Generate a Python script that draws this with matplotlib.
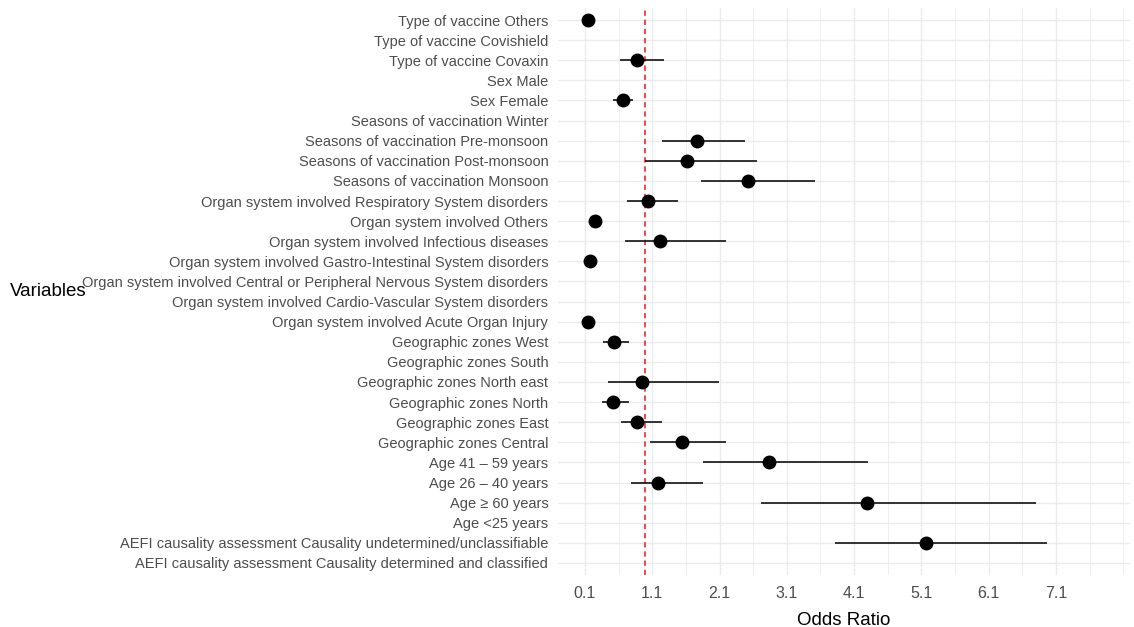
import numpy as np
import matplotlib
matplotlib.use("Agg")
import matplotlib.pyplot as plt
from matplotlib.ticker import FixedLocator

plt.rcParams['font.family'] = ['Liberation Sans', 'DejaVu Sans']

variables = [
    "Type of vaccine Others",
    "Type of vaccine Covishield",
    "Type of vaccine Covaxin",
    "Sex Male",
    "Sex Female",
    "Seasons of vaccination Winter",
    "Seasons of vaccination Pre-monsoon",
    "Seasons of vaccination Post-monsoon",
    "Seasons of vaccination Monsoon",
    "Organ system involved Respiratory System disorders",
    "Organ system involved Others",
    "Organ system involved Infectious diseases",
    "Organ system involved Gastro-Intestinal System disorders",
    "Organ system involved Central or Peripheral Nervous System disorders",
    "Organ system involved Cardio-Vascular System disorders",
    "Organ system involved Acute Organ Injury",
    "Geographic zones West",
    "Geographic zones South",
    "Geographic zones North east",
    "Geographic zones North",
    "Geographic zones East",
    "Geographic zones Central",
    "Age 41 \u2013 59 years",
    "Age 26 \u2013 40 years",
    "Age \u2265 60 years",
    "Age <25 years",
    "AEFI causality assessment Causality undetermined/unclassifiable",
    "AEFI causality assessment Causality determined and classified",
]
nan = np.nan
odds_ratio = [0.15, nan, 0.88, nan, 0.66, nan, 1.76, 1.62, 2.53, 1.04, 0.25, 1.22, 0.18,
              nan, nan, 0.14, 0.53, nan, 0.95, 0.52, 0.88, 1.54, 2.83, 1.19, 4.29, nan, 5.17, nan]
ci_low = [0.12, nan, 0.62, nan, 0.52, nan, 1.24, 1.00, 1.82, 0.73, 0.19, 0.70, 0.14,
          nan, nan, 0.11, 0.37, nan, 0.45, 0.35, 0.64, 1.07, 1.85, 0.78, 2.72, nan, 3.82, nan]
ci_high = [0.18, nan, 1.28, nan, 0.82, nan, 2.48, 2.65, 3.52, 1.48, 0.35, 2.19, 0.23,
           nan, nan, 0.18, 0.76, nan, 2.09, 0.75, 1.25, 2.19, 4.31, 1.86, 6.80, nan, 6.96, nan]
x_ticks = [0.1, 1.1, 2.1, 3.1, 4.1, 5.1, 6.1, 7.1]
x_tick_labels = ["0.1", "1.1", "2.1", "3.1", "4.1", "5.1", "6.1", "7.1"]
ref_line = 1.0

fig = plt.figure(figsize=(11.34, 6.27), dpi=100)
ax = fig.add_axes([558/1134, 1 - 575/627, (1130-558)/1134, (575-8)/627])

n = len(variables)
ypos = np.arange(n)[::-1]
orr = np.array(odds_ratio); lo = np.array(ci_low); hi = np.array(ci_high)

ax.hlines(ypos, lo, hi, color="#111111", lw=1.2, zorder=3)
ax.plot(orr, ypos, 'o', color='black', ms=9, zorder=4)
ax.axvline(ref_line, color='#E41A1C', ls=(0, (3.5, 2.5)), lw=1.1, zorder=2)

ax.set_xlim(-0.3, 8.2)
ax.set_ylim(-0.6, n - 0.4)
ax.set_yticks(ypos)
ax.set_yticklabels(variables)
ax.set_xticks(x_ticks)
ax.set_xticklabels(x_tick_labels)
ax.xaxis.set_minor_locator(FixedLocator([0.6 + i for i in range(8)] + [8.1]))

for s in ax.spines.values():
    s.set_visible(False)
ax.tick_params(axis='both', which='both', length=0, colors='#4D4D4D')
ax.tick_params(axis='y', pad=7, labelsize=10.5)
ax.tick_params(axis='x', pad=8, labelsize=11.5)
ax.grid(True, which='major', color='#EBEBEB', lw=1.0, zorder=0)
ax.grid(True, which='minor', axis='x', color='#EBEBEB', lw=0.6, zorder=0)
ax.set_axisbelow(True)

ax.set_xlabel("Odds Ratio", fontsize=13.5, color='black', labelpad=8)
fig.text(10/1134, 1 - 292/627, "Variables", fontsize=13.5, color='black', va='center', ha='left')

fig.savefig("out.png", dpi=100)
